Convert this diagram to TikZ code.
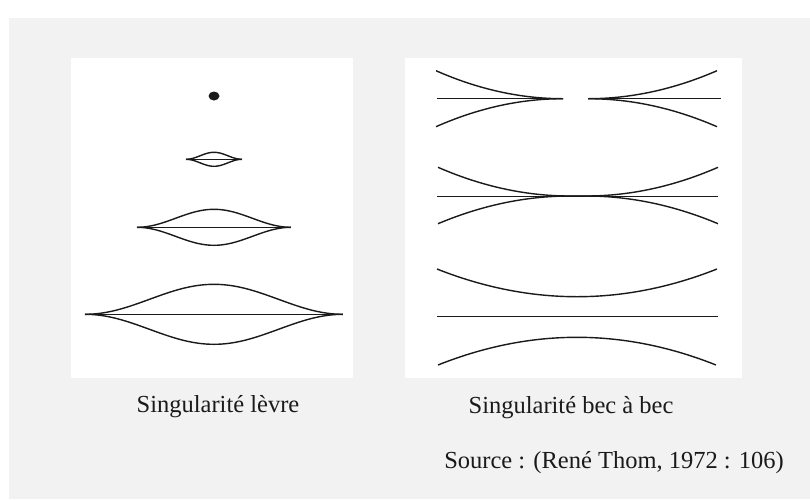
\documentclass[tikz,border=0pt]{standalone}
\usepackage{fontspec}
\setmainfont{Liberation Serif}
\usepackage{tikz}
\definecolor{fond}{HTML}{F2F2F2}
\definecolor{trait}{HTML}{1A1A1A}

\begin{document}
\begin{tikzpicture}[x=1pt,y=-1pt,
    courbe/.style={draw=trait,line width=1.4pt},
    axe/.style={draw=trait,line width=0.9pt},
    legende/.style={font=\fontsize{24.5}{29}\selectfont,text=trait,inner sep=0pt}]
  % Fond et panneaux
  \useasboundingbox (0,0) rectangle (810,499);
  \fill[fond] (9,18) rectangle (810,499);
  \fill[white] (71,58) rectangle (353,378);
  \fill[white] (405,58) rectangle (742,378);

  % Singularite levre
  \fill[trait] (214,96) ellipse (5.5 and 4.5);

  \draw[axe] (186,159.3) -- (242,159.3);
  \draw[courbe] plot[domain=-1:1,samples=41] ({214+28*\x},{159.3-7*(1+cos(180*\x))/2});
  \draw[courbe] plot[domain=-1:1,samples=41] ({214+28*\x},{159.3+7*(1+cos(180*\x))/2});

  \draw[axe] (137,227.3) -- (291,227.3);
  \draw[courbe] plot[domain=-1:1,samples=61] ({214+77*\x},{227.3-18*(1+cos(180*\x))/2});
  \draw[courbe] plot[domain=-1:1,samples=61] ({214+77*\x},{227.3+18*(1+cos(180*\x))/2});

  \draw[axe] (85,314.3) -- (343,314.3);
  \draw[courbe] plot[domain=-1:1,samples=81] ({214+129*\x},{314.3-30*(1+cos(180*\x))/2});
  \draw[courbe] plot[domain=-1:1,samples=81] ({214+129*\x},{314.3+30*(1+cos(180*\x))/2});

  % Singularite bec a bec : becs separes
  \draw[axe] (437,98.7) -- (563,98.7);
  \draw[axe] (588,98.7) -- (721,98.7);
  \draw[courbe] plot[domain=0:1,samples=41] ({563-127*\x},{98.7-28*\x*\x});
  \draw[courbe] plot[domain=0:1,samples=41] ({563-127*\x},{98.7+28*\x*\x});
  \draw[courbe] plot[domain=0:1,samples=41] ({588+129*\x},{98.7-28*\x*\x});
  \draw[courbe] plot[domain=0:1,samples=41] ({588+129*\x},{98.7+28*\x*\x});

  % becs en contact
  \draw[axe] (437,196) -- (718,196);
  \draw[courbe] plot[domain=1:0,samples=41] ({570-132*\x},{196-28.7*\x*\x})
    -- plot[domain=0:1,samples=41] ({586+132*\x},{196-28.7*\x*\x});
  \draw[courbe] plot[domain=1:0,samples=41] ({570-132*\x},{196+27.7*\x*\x})
    -- plot[domain=0:1,samples=41] ({586+132*\x},{196+27.7*\x*\x});

  % courbes separees
  \draw[axe] (437,316.7) -- (718,316.7);
  \draw[courbe] plot[domain=-1:1,samples=61] ({577+140*\x},{296.7-27.7*\x*\x});
  \draw[courbe] plot[domain=-1:1,samples=61] ({577+139*\x},{337.3+27.7*\x*\x});

  % Legendes
  \node[legende,anchor=base] (levre) at (218,412) {Singularité lèvre};
  \node[legende,anchor=base] (bec) at (571,413) {Singularité bec à bec};
  \node[legende,anchor=base east] (source) at (784,468) {Source : (René Thom, 1972 : 106)};
\end{tikzpicture}
\end{document}
